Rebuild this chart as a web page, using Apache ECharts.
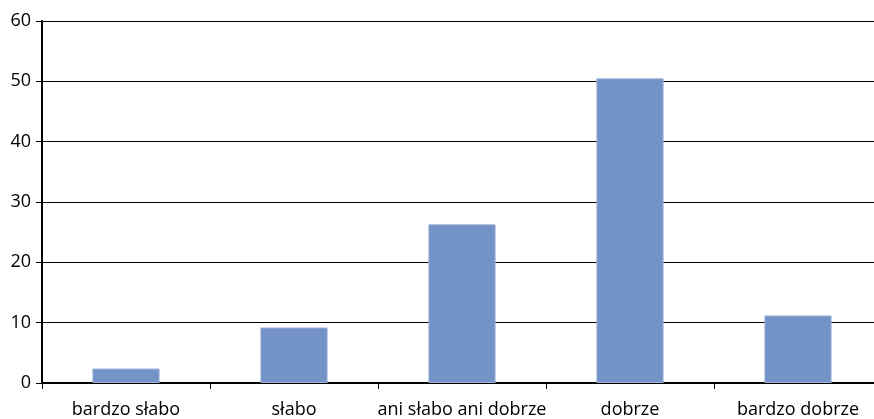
<!DOCTYPE html>
<html><head><meta charset="utf-8">
<script src="https://cdn.jsdelivr.net/npm/echarts@6/dist/echarts.min.js"></script>
<style>html,body{margin:0;padding:0;background:#fff;overflow:hidden;width:874px;height:419px}#c{width:890px;height:419px}</style>
</head><body><div id="c"></div>
<script>
const categories = ['bardzo słabo', 'słabo', 'ani słabo ani dobrze', 'dobrze', 'bardzo dobrze'];
const values = [2.4, 9.2, 26.3, 50.5, 11.2];
const yTicks = [0, 10, 20, 30, 40, 50, 60];

const chart = echarts.init(document.getElementById('c'), null, {renderer: 'canvas'});
chart.setOption({
  animation: false,
  grid: {left: 42, right: 8, top: 21, bottom: 36, containLabel: false},
  xAxis: {
    type: 'category', data: categories,
    axisLine: {show: true, lineStyle: {color: '#000', width: 2}},
    axisTick: {show: true, alignWithLabel: false, length: 6, lineStyle: {color: '#000', width: 1}},
    axisLabel: {color: '#000', fontSize: 18, fontFamily: 'Open Sans', margin: 18, interval: 0}
  },
  yAxis: {
    type: 'value', min: yTicks[0], max: yTicks[yTicks.length - 1], interval: 10,
    axisLine: {show: true, lineStyle: {color: '#000', width: 2}},
    axisTick: {show: true, length: 6, lineStyle: {color: '#000', width: 1}},
    axisLabel: {color: '#000', fontSize: 18, fontFamily: 'Open Sans', margin: 11},
    splitLine: {show: true, lineStyle: {color: '#000', width: 1}}
  },
  series: [{
    type: 'bar', data: values, barWidth: '40%',
    itemStyle: {color: '#7393c7', borderColor: '#9fb3da', borderWidth: 1}
  }]
});
</script></body></html>
